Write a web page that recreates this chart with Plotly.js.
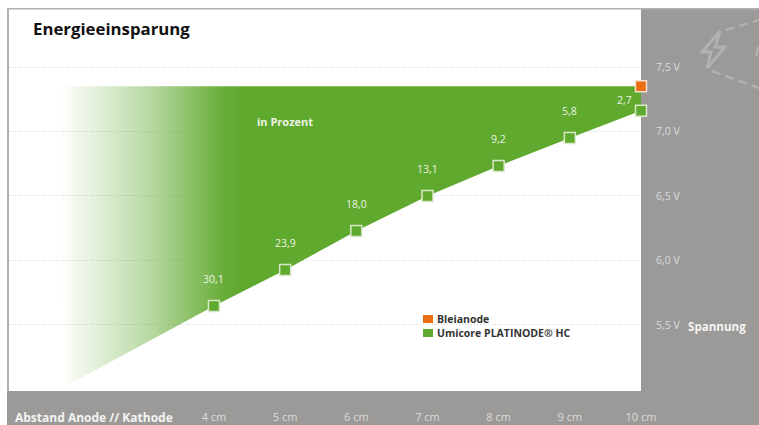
<!DOCTYPE html>
<html>
<head>
<meta charset="utf-8">
<script src="https://cdn.plot.ly/plotly-3.0.1.min.js"></script>
<style>html,body{margin:0;padding:0;background:#fff}#chart{width:759px;height:425px}</style>
</head>
<body>
<div id="chart"></div>
<script>
// Cell voltage against anode-cathode distance
const distanceCm = [4, 5, 6, 7, 8, 9, 10];
const distanceLabels = ['4 cm', '5 cm', '6 cm', '7 cm', '8 cm', '9 cm', '10 cm'];
const platinodeVolt = [5.647, 5.926, 6.229, 6.5, 6.733, 6.95, 7.16];
const leadVolt = 7.35;
const savingLabels = ['30,1', '23,9', '18,0', '13,1', '9,2', '5,8', '2,7'];
const voltTicks = [5.5, 6, 6.5, 7, 7.5];
const voltLabels = ['5,5 V', '6,0 V', '6,5 V', '7,0 V', '7,5 V'];

// Where the savings wedge fades out on the left
const wedgeTipX = 1.9;
const wedgeTipY = 5.02;
const wedgeTopLeftX = 1.84;

const GREEN = '#5fa92e';
const ORANGE = '#ea6f10';
const PANEL = '#9b9a99';
const FONT = 'Open Sans';

const wedgeX = [wedgeTopLeftX, 10].concat(distanceCm.slice().reverse(), [wedgeTipX]);
const wedgeY = [leadVolt, leadVolt].concat(platinodeVolt.slice().reverse(), [wedgeTipY]);

const traces = [
  {
    x: wedgeX, y: wedgeY, mode: 'lines', fill: 'toself', line: {width: 0},
    fillgradient: {
      type: 'horizontal', start: wedgeTopLeftX, stop: 4.4,
      colorscale: [[0, 'rgba(95,169,46,0)'], [0.5, 'rgba(95,169,46,0.45)'], [0.9, 'rgba(95,169,46,0.95)'], [1, GREEN]]
    },
    hoverinfo: 'skip', showlegend: false
  },
  {
    x: distanceCm, y: platinodeVolt, mode: 'markers', name: 'Umicore PLATINODE® HC',
    marker: {symbol: 'square', size: 11, color: GREEN, line: {color: '#d9e8c8', width: 1.5}},
    showlegend: false, cliponaxis: false
  },
  {
    x: [10], y: [leadVolt], mode: 'markers', name: 'Bleianode',
    marker: {symbol: 'square', size: 11, color: ORANGE, line: {color: '#f5e2d0', width: 1.5}},
    showlegend: false, cliponaxis: false
  }
];

// Pixel helpers for paper-referenced items outside the plotting area
const px = v => (v - 9) / 632;
const py = v => (391 - v) / 381;

const note = (x, y, text, size, color) => ({
  xref: 'paper', yref: 'paper', x: px(x), y: py(y), xanchor: 'left', yanchor: 'middle',
  text, showarrow: false, font: {family: FONT, size, color}
});

const annotations = savingLabels.map((t, i) => ({
  x: distanceCm[i], y: platinodeVolt[i], text: t, showarrow: false,
  xref: 'x', yref: 'y', xanchor: 'center', yanchor: 'middle',
  xshift: i === 6 ? -17 : 0, yshift: i === 6 ? 11 : 27,
  font: {family: FONT, size: 10.5, color: '#eef3e4'}
}));
annotations.push(
  note(31, 28, '<b>Energieeinsparung</b>', 16.8, '#111'),
  {x: 5, y: 7.08, text: '<b>in Prozent</b>', showarrow: false, yanchor: 'middle', font: {family: FONT, size: 11, color: '#eef3e4'}},
  note(435, 319, '<b>Bleianode</b>', 10.5, '#333'),
  note(435, 333, '<b>Umicore PLATINODE® HC</b>', 10.5, '#333'),
  note(686, 326, '<b>Spannung</b>', 11.6, '#f4f4f2'),
  note(13, 417, '<b>Abstand Anode // Kathode</b>', 12, '#f4f4f2')
);

const panel = (x0, y0, x1, y1, color) => ({type: 'rect', xref: 'paper', yref: 'paper', x0: px(x0), x1: px(x1), y0: py(y0), y1: py(y1),
  fillcolor: color, line: {width: 0}, layer: 'below'});
const stroke = (x0, y0, x1, y1) => ({type: 'line', xref: 'paper', yref: 'paper', x0: px(x0), x1: px(x1), y0: py(y0), y1: py(y1),
  line: {color: '#b2b1b0', width: 2.5, dash: '9px,5px'}, layer: 'below'});

const shapes = [
  panel(641, 9, 759, 425, PANEL),
  panel(7, 391, 759, 425, PANEL),
  panel(7, 8, 759, 9.5, '#aeb1b5'),
  panel(7, 8, 9, 391, '#aeb1b5'),
  panel(423, 315, 433, 323, ORANGE),
  panel(423, 329, 433, 337, GREEN),
  stroke(726, 30, 759, 20),
  stroke(712, 71, 759, 88),
  stroke(758, 47, 756, 58),
  {type: 'path', xref: 'paper', yref: 'paper', layer: 'below', line: {color: '#b2b1b0', width: 3}, fillcolor: 'rgba(0,0,0,0)',
   path: 'M ' + [[720, 31], [702, 52], [711, 52], [707, 68], [725, 47], [715, 47], [720, 31]].map(p => px(p[0]) + ' ' + py(p[1])).join(' L ') + ' Z'}
];

const layout = {
  width: 759, height: 425,
  margin: {l: 9, r: 118, t: 10, b: 34, pad: 0},
  paper_bgcolor: '#fff', plot_bgcolor: '#fff',
  showlegend: false,
  xaxis: {
    range: [1.12, 10], tickvals: distanceCm, ticktext: distanceLabels, showgrid: false, zeroline: false,
    showline: false, ticks: 'outside', ticklen: 16, tickcolor: 'rgba(0,0,0,0)',
    tickfont: {family: FONT, size: 11, color: '#dddcda'}
  },
  yaxis: {
    side: 'right', range: [4.988, 7.942], tickvals: voltTicks, ticktext: voltLabels, zeroline: false, showline: false,
    showgrid: true, gridcolor: '#cfcfcf', griddash: '1px,2px', gridwidth: 1,
    ticks: 'outside', ticklen: 12, tickcolor: 'rgba(0,0,0,0)',
    tickfont: {family: FONT, size: 10.5, color: '#dddcda'}
  },
  annotations, shapes,
  hovermode: 'closest'
};

Plotly.newPlot('chart', traces, layout, {displayModeBar: false, staticPlot: true});
</script>
</body>
</html>
